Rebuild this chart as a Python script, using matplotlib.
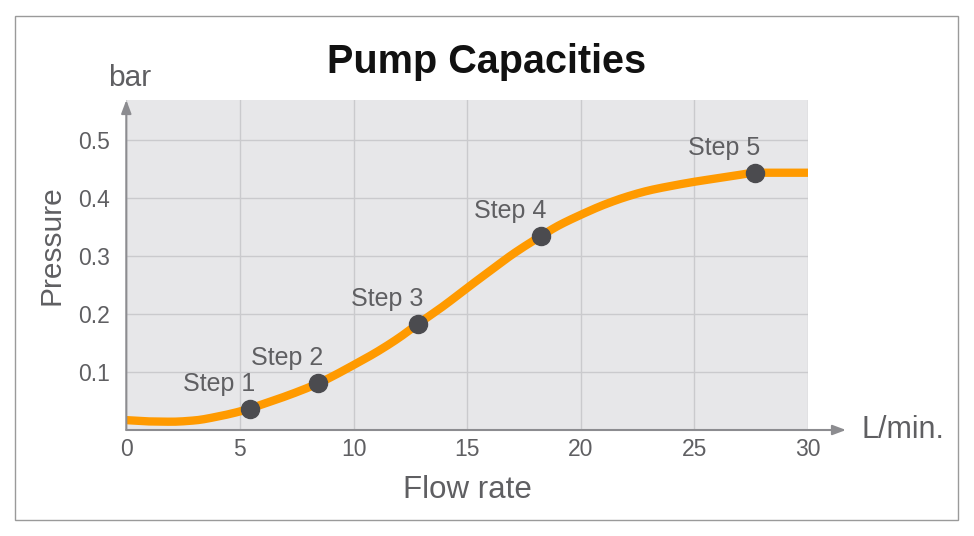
import matplotlib
matplotlib.use("Agg")
import matplotlib.pyplot as plt
from matplotlib.patches import Rectangle
import numpy as np

plt.rcParams['font.family'] = ['Liberation Sans', 'DejaVu Sans']

# Data
curve_x = [0, 1, 2, 3, 4, 5, 5.44, 6, 7, 8, 8.45, 9, 10, 11, 12, 12.84,
           14, 15, 16, 17, 18.25, 19, 20, 21, 22, 23, 24, 25, 26,
           27, 27.67, 28, 29, 30]
curve_y = [0.017, 0.0148, 0.0143, 0.0165, 0.023, 0.032, 0.037, 0.0445, 0.058, 0.073, 0.0805,
           0.091, 0.112, 0.134, 0.159, 0.183, 0.215, 0.245, 0.274, 0.303, 0.3345, 0.352,
           0.371, 0.388, 0.402, 0.413, 0.421, 0.428, 0.434, 0.440, 0.4436, 0.4436, 0.4436, 0.4436]
step_labels = ["Step 1", "Step 2", "Step 3", "Step 4", "Step 5"]
step_x = [5.44, 8.45, 12.84, 18.25, 27.67]
step_y = [0.037, 0.0805, 0.183, 0.3345, 0.4436]
x_ticks = [0, 5, 10, 15, 20, 25, 30]
y_ticks = [0.1, 0.2, 0.3, 0.4, 0.5]


def pchip_path(x, y, n=12):
    """Smooth rendering path (monotone cubic Hermite) through the read points."""
    x = np.asarray(x, float); y = np.asarray(y, float)
    h = np.diff(x); d = np.diff(y) / h
    m = np.zeros_like(y)
    for k in range(1, len(x) - 1):
        if d[k - 1] * d[k] > 0:
            w1 = 2 * h[k] + h[k - 1]; w2 = h[k] + 2 * h[k - 1]
            m[k] = (w1 + w2) / (w1 / d[k - 1] + w2 / d[k])
    m[0] = d[0]; m[-1] = d[-1]
    xs, ys = [], []
    for k in range(len(x) - 1):
        t = np.linspace(0, 1, n, endpoint=False)
        h00 = 2*t**3 - 3*t**2 + 1; h10 = t**3 - 2*t**2 + t
        h01 = -2*t**3 + 3*t**2; h11 = t**3 - t**2
        xs.append(x[k] + t * h[k])
        ys.append(h00*y[k] + h10*h[k]*m[k] + h01*y[k+1] + h11*h[k]*m[k+1])
    xs.append([x[-1]]); ys.append([y[-1]])
    return np.concatenate(xs), np.concatenate(ys)


TXT = '#5f5f62'
AX = '#8c8c90'

fig = plt.figure(figsize=(9.74, 5.36), dpi=100)
fig.patches.append(Rectangle((14.5/974, 1 - 520/536), (958 - 14.5)/974, (520 - 16)/536,
                             transform=fig.transFigure, fill=False, edgecolor='#9a9a9a', lw=1.0))

ax = fig.add_axes([126.3/974, 1 - 430/536, (808 - 126.3)/974, 330/536])
ax.set_facecolor('#e7e7e9')
ax.set_xlim(0, 30)
ax.set_ylim(0, 0.569)
for s in ax.spines.values():
    s.set_visible(False)

ax.set_xticks(x_ticks)
ax.set_yticks(y_ticks)
ax.set_yticklabels([f"{v:.1f}" for v in y_ticks])
ax.tick_params(length=0, labelsize=16.5, colors=TXT)
ax.tick_params(axis='x', pad=6)
ax.tick_params(axis='y', pad=12)
ax.grid(True, color='#cacacd', lw=1.0)
ax.set_axisbelow(True)

sx_, sy_ = pchip_path(curve_x, curve_y)
ax.plot(sx_, sy_, color='#ff9a00', lw=6, solid_capstyle='butt', solid_joinstyle='round',
        zorder=3)
ax.plot(step_x, step_y, 'o', color='#4b4b4f', ms=13, zorder=4)
for lab, sx, sy in zip(step_labels, step_x, step_y):
    ax.annotate(lab, (sx, sy), xytext=(-31, 25), textcoords='offset pixels',
                ha='center', va='center', fontsize=18, color=TXT, zorder=5)

# axis arrows
ax.annotate('', xy=(0, 1.0), xycoords='axes fraction', xytext=(0, 0),
            textcoords='axes fraction',
            arrowprops=dict(arrowstyle='-|>,head_length=0.8,head_width=0.3', color=AX, lw=1.5,
                            shrinkA=0, shrinkB=0), annotation_clip=False)
ax.annotate('', xy=(1 + 38/681.7, 0), xycoords='axes fraction', xytext=(0, 0),
            textcoords='axes fraction',
            arrowprops=dict(arrowstyle='-|>,head_length=0.8,head_width=0.3', color=AX, lw=1.5,
                            shrinkA=0, shrinkB=0), annotation_clip=False)

fig.text(130/974, 1 - 78/536, 'bar', ha='center', va='center', fontsize=21.5, color=TXT)
fig.text(862/974, 1 - 430/536, 'L/min.', ha='left', va='center', fontsize=22, color=TXT)
fig.text(52/974, 1 - 245/536, 'Pressure', ha='center', va='center', rotation=90,
         fontsize=21.5, color=TXT)
fig.text(467/974, 1 - 490/536, 'Flow rate', ha='center', va='center', fontsize=22.5, color=TXT)
fig.text(487/974, 1 - 62/536, 'Pump Capacities', ha='center', va='center', fontsize=28.5,
         fontweight='bold', color='#111111')

fig.savefig('out.png', dpi=100)
